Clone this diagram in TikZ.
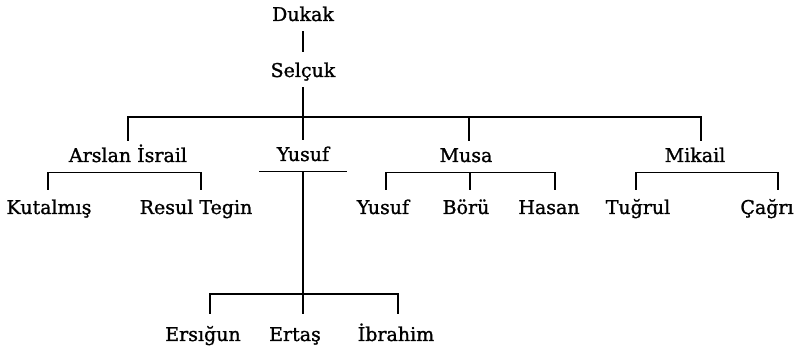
\documentclass[tikz,border=0pt]{standalone}
\usepackage{fontspec}
\setmainfont{DejaVu Serif}
\newfontfamily\lblfont[FakeBold=1.2]{DejaVu Serif}
\begin{document}
\begin{tikzpicture}[x=1pt,y=-1pt,
  lbl/.style={font=\lblfont\fontsize{19}{20}\selectfont, anchor=base, inner xsep=0pt, inner ysep=6pt, text height=15pt, text depth=4pt},
  ln/.style={line width=1.3pt}]
\useasboundingbox (0,0) rectangle (801,352);
% labels
\node[lbl] (dukak) at (303,21) {Dukak};
\node[lbl] (selcuk) at (303,77) {Selçuk};
\node[lbl] (arslan) at (128,162) {Arslan İsrail};
\node[lbl] (yusuf) at (303,161) {Yusuf};
\node[lbl] (musa) at (466,162) {Musa};
\node[lbl] (mikail) at (695,162) {Mikail};
\node[lbl] (kutalmis) at (49,214) {Kutalmış};
\node[lbl] (resul) at (196,214) {Resul Tegin};
\node[lbl] (yusufb) at (383,214) {Yusuf};
\node[lbl] (boru) at (466,214) {Börü};
\node[lbl] (hasan) at (549,214) {Hasan};
\node[lbl] (tugrul) at (638,214) {Tuğrul};
\node[lbl] (cagri) at (767,214) {Çağrı};
\node[lbl] (ersigun) at (203,341) {Ersığun};
\node[lbl] (ertas) at (295,341) {Ertaş};
\node[lbl] (ibrahim) at (396,341) {İbrahim};
% junction coordinates
\coordinate (top) at (303,117);
\coordinate (mk) at ([xshift=6pt]mikail.north);
\coordinate (mu) at ([xshift=3pt]musa.north);
\coordinate (ku) at ([xshift=-1pt,yshift=3pt]kutalmis.north);
\coordinate (re) at ([xshift=5pt,yshift=3pt]resul.north);
\coordinate (yb) at ([xshift=3pt,yshift=3pt]yusufb.north);
\coordinate (bo) at ([xshift=4pt,yshift=3pt]boru.north);
\coordinate (hs) at ([xshift=6pt,yshift=3pt]hasan.north);
\coordinate (tg) at ([xshift=-2pt,yshift=3pt]tugrul.north);
\coordinate (cg) at ([xshift=11pt,yshift=3pt]cagri.north);
\coordinate (yj) at (303,294);
\coordinate (er) at ([xshift=7pt,yshift=6pt]ersigun.north);
\coordinate (ib) at ([xshift=2pt,yshift=6pt]ibrahim.north);
% connectors
\draw[ln] (dukak.south) -- ([yshift=4pt]selcuk.north);
\draw[ln] (selcuk.south) -- (top) -- (yusuf.north);
\draw[ln] (arslan.north) |- (mk |- top) -- (mk);
\draw[ln] (mu |- top) -- (mu);
\draw[ln] (ku) |- (arslan.south) -| (re);
\draw[ln] ([xshift=-44pt]yusuf.south) -- ([xshift=44pt]yusuf.south);
\draw[ln] (yusuf.south) -- (yj);
\draw[ln] (er) |- (yj) -| (ib);
\draw[ln] (yj) -- (yj |- er);
\draw[ln] (yb) |- (musa.south) -| (hs);
\draw[ln] (bo |- musa.south) -- (bo);
\draw[ln] (tg) |- (mikail.south) -| (cg);
\end{tikzpicture}
\end{document}
